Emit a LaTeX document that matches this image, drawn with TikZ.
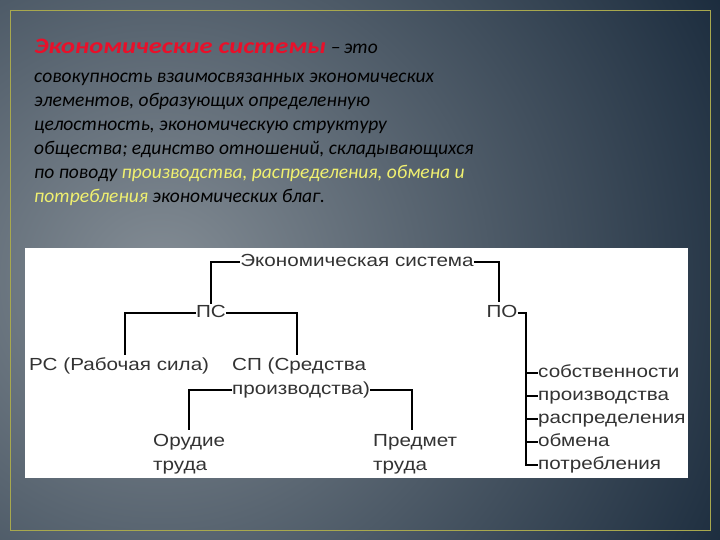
\documentclass[tikz,border=0pt]{standalone}
\usepackage{fontspec}
\setmainfont{Liberation Sans}
\newfontfamily\carlfont{Carlito}
\newcommand{\sx}[1]{\scalebox{1.18}[1]{#1}}
\definecolor{bgl}{HTML}{848D95}
\definecolor{bgd}{HTML}{17283A}
\definecolor{tgray}{HTML}{333333}
\definecolor{ttl}{HTML}{E8102A}
\definecolor{yel}{HTML}{F0F070}
\begin{document}
\begin{tikzpicture}[x=1pt,y=-1pt,
 body/.style={anchor=base west,inner sep=0pt,font=\carlfont\itshape\fontsize{19.5}{22}\selectfont,text=black},
 lab/.style={inner sep=0pt,font=\fontsize{17.5}{20}\selectfont,text=tgray,text height=13pt,text depth=4pt},
 ln/.style={line width=1.6pt,black}]
\useasboundingbox (0,0) rectangle (720,540);
\shade[inner color=bgl,outer color=bgd] (-500,-360) rectangle (820,920);
\draw[yel!70!black,line width=0.8pt] (10,10) rectangle (710,530);
% text
\node[body,font=\carlfont\bfseries\itshape\fontsize{22}{24}\selectfont,text=ttl] (t0) at (34,54) {\scalebox{1.2}[1]{Экономические системы}};
\node[body,anchor=base west] (t0b) at (t0.base east) {\ –\,это};
\node[body] (t1) at (34,83) {совокупность взаимосвязанных экономических};
\node[body] (t2) at (34,107) {элементов, образующих определенную};
\node[body] (t3) at (34,131) {целостность, экономическую структуру};
\node[body] (t4) at (34,155) {общества; единство отношений, складывающихся};
\node[body] (t5) at (34,179) {по поводу \textcolor{yel}{производства, распределения, обмена и}};
\node[body] (t6) at (34,203) {\textcolor{yel}{потребления} экономических благ.};
% white box
\fill[white] (25,248) rectangle (688,478);
\node[lab] (es) at (357,262) {\sx{Экономическая система}};
\node[lab] (ps) at (211,313) {\sx{ПС}};
\node[lab] (po) at (502,313) {\sx{ПО}};
\node[lab,anchor=west] (rs) at (29,366) {\sx{РС (Рабочая сила)}};
\node[lab,anchor=west] (sp1) at (232,366) {\sx{СП (Средства}};
\node[lab,anchor=west] (sp2) at (232,390) {\sx{производства)}};
\node[lab,anchor=west] (or) at (153,442) {\sx{Орудие}};
\node[lab,anchor=west] (or2) at (153,466) {\sx{труда}};
\node[lab,anchor=west] (pr) at (373,442) {\sx{Предмет}};
\node[lab,anchor=west] (pr2) at (373,466) {\sx{труда}};
\node[lab,anchor=west] (i1) at (538,373) {\sx{собственности}};
\node[lab,anchor=west] (i2) at (538,396) {\sx{производства}};
\node[lab,anchor=west] (i3) at (538,419) {\sx{распределения}};
\node[lab,anchor=west] (i4) at (538,442) {\sx{обмена}};
\node[lab,anchor=west] (i5) at (538,465) {\sx{потребления}};
\coordinate (pojoin) at (526,313);
\draw[ln] (es.west) -- (211,262) -- (ps.north);
\draw[ln] (es.east) -- (499,262) -- (499,302);
\draw[ln] (ps.west) -- (125,313) -- (125,355);
\draw[ln] (ps.east) -- (297,313) -- (297,355);
\draw[ln] (sp2.west) -- (189,390) -- (189,430);
\draw[ln] (sp2.east) -- (412,390) -- (412,430);
\draw[ln] (po.east) -- (pojoin) -- (526,465) -- (i5.west);
\foreach \i in {i1,i2,i3,i4} \draw[ln] (pojoin |- \i.west) -- (\i.west);
\end{tikzpicture}
\end{document}
